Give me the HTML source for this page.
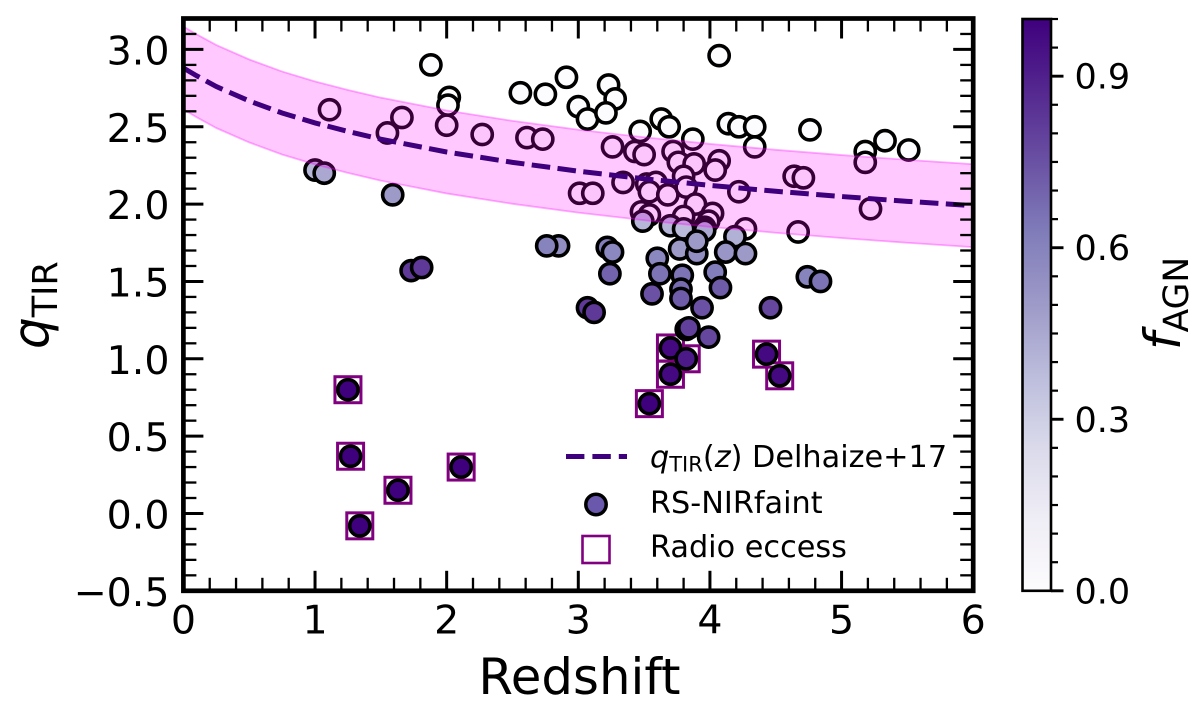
<!DOCTYPE html>
<html lang="en">
<head>
<meta charset="utf-8">
<title>qTIR versus redshift</title>
<style>
html,body{margin:0;padding:0;background:#fff;}
svg{display:block;}
text{font-family:"DejaVu Sans","Liberation Sans",sans-serif;fill:#000;}
</style>
</head>
<body>
<svg id="chart" xmlns="http://www.w3.org/2000/svg" width="1200" height="706" viewBox="0 0 1200 706">
  <defs>
    <clipPath id="plot-clip"><rect x="183.4" y="18.5" width="789.8" height="572.3"/></clipPath>
    <linearGradient id="purples-gradient" x1="0" y1="1" x2="0" y2="0"></linearGradient>
  </defs>
  <rect x="183.4" y="18.5" width="789.8" height="572.3" fill="#fff"/>
  <g id="squares" clip-path="url(#plot-clip)"></g>
  <g id="points" clip-path="url(#plot-clip)"></g>
  <g id="band" clip-path="url(#plot-clip)"></g>
  <g id="curve" clip-path="url(#plot-clip)"></g>
  <g id="ticks"></g>
  <rect x="183.4" y="18.5" width="789.8" height="572.3" fill="none" stroke="#000" stroke-width="4.7"/>
  <g id="tick-labels"></g>

  <text x="579.5" y="694" font-size="49.8" text-anchor="middle">Redshift</text>
  <text transform="translate(48,349) rotate(-90)" font-size="50"><tspan font-style="italic">q</tspan><tspan font-size="35" dy="9">TIR</tspan></text>

  <g>
    <line x1="566" y1="456.5" x2="627" y2="456.5" stroke="#3f007d" stroke-width="5" stroke-dasharray="18.4 8"/>
    <text x="650" y="467" font-size="30.3"><tspan font-style="italic">q</tspan><tspan font-size="21" dy="4.5">TIR</tspan><tspan dy="-4.5">(</tspan><tspan font-style="italic">z</tspan><tspan>) Delhaize+17</tspan></text>
    <circle cx="596" cy="504.5" r="10.2" fill="#6a58ad" stroke="#000" stroke-width="3.5"/>
    <text x="650" y="513" font-size="30.3">RS-NIRfaint</text>
    <rect x="582.5" y="536" width="27" height="27" fill="none" stroke="#800080" stroke-width="2.6"/>
    <text x="650" y="557" font-size="30.3">Radio eccess</text>
  </g>

  <g>
    <rect id="cbar" x="1022.5" y="19" width="28.5" height="571.8" fill="url(#purples-gradient)" stroke="#000" stroke-width="2.6"/>
    <g id="cbar-ticks"></g>
    <text transform="translate(1180,350) rotate(-90)" font-size="50"><tspan font-style="italic">f</tspan><tspan font-size="34.5" dy="8">AGN</tspan></text>
  </g>
</svg>
<script>
// Scatter data
const redshift = [4.07,2.56,2.75,2.91,3.23,3.28,3.00,3.07,3.21,3.47,3.63,3.69,3.87,4.14,4.22,4.34,4.76,4.34,1.88,2.02,2.01,2.00,2.27,1.11,1.55,1.66,2.61,2.73,3.26,3.43,3.50,3.72,3.76,3.88,4.07,4.04,4.64,4.71,3.34,3.01,3.11,3.52,3.59,3.54,3.68,3.80,3.82,4.22,3.48,3.54,3.89,3.80,4.02,3.99,3.96,4.27,4.67,5.18,5.18,5.33,5.51,5.22,3.49,3.70,3.80,3.96,4.19,3.77,3.90,3.90,4.12,4.27,2.85,2.76,3.22,3.26,3.24,3.60,3.62,3.79,3.56,3.78,3.78,3.94,4.04,4.08,4.74,4.84,4.46,3.07,3.12,3.82,3.84,3.99,1.00,1.07,1.59,1.73,1.81];
const qTir = [2.96,2.72,2.71,2.82,2.77,2.68,2.63,2.55,2.59,2.47,2.55,2.50,2.42,2.52,2.50,2.50,2.48,2.37,2.90,2.69,2.64,2.51,2.45,2.61,2.46,2.56,2.43,2.42,2.37,2.34,2.32,2.34,2.27,2.26,2.28,2.22,2.18,2.17,2.14,2.07,2.07,2.13,2.14,2.08,2.06,2.18,2.11,2.08,1.95,1.93,2.00,1.92,1.94,1.89,1.85,1.84,1.82,2.34,2.27,2.41,2.35,1.97,1.89,1.86,1.84,1.83,1.79,1.71,1.68,1.76,1.69,1.68,1.73,1.73,1.72,1.69,1.55,1.65,1.55,1.54,1.42,1.45,1.39,1.33,1.56,1.46,1.53,1.50,1.33,1.33,1.30,1.19,1.20,1.14,2.22,2.20,2.06,1.57,1.59];
const fAgn = [0,0,0,0,0,0,0,0,0,0,0,0,0,0,0,0,0,0,0,0,0,0,0,0,0,0,0,0,0,0,0,0,0,0,0,0,0,0,0,0,0,0,0,0,0,0,0,0,0,0,0,0,0,0,0,0,0,0,0,0,0,0,0.4,0.4,0.38,0.45,0.42,0.5,0.55,0.5,0.52,0.5,0.55,0.6,0.62,0.58,0.7,0.58,0.65,0.65,0.75,0.68,0.72,0.75,0.62,0.72,0.6,0.65,0.78,0.82,0.82,0.88,0.8,0.78,0.4,0.45,0.5,0.82,0.82];

// Radio-excess sources (drawn with a square)
const radioRedshift = [3.70,3.82,3.70,3.54,4.43,4.53,1.25,1.27,1.63,1.34,2.11];
const radioQTir = [1.07,1.00,0.90,0.71,1.03,0.89,0.80,0.37,0.15,-0.08,0.30];
const radioFAgn = [0.97,0.92,0.97,1,0.97,0.97,1,1,1,1,1];

// Redshift evolution curve
const curveZ = [0,0.1,0.25,0.5,0.75,1,1.25,1.5,2,2.5,3,3.5,4,4.5,5,5.5,6];
const curveQ = [2.88,2.83,2.76,2.667,2.589,2.525,2.47,2.42,2.337,2.27,2.213,2.164,2.121,2.083,2.049,2.018,1.99];
const curveBandHalfWidth = 0.268;

// Axis ticks
const xMajorTicks = [0,1,2,3,4,5,6];
const xMinorTicks = [0.2,0.4,0.6,0.8,1.2,1.4,1.6,1.8,2.2,2.4,2.6,2.8,3.2,3.4,3.6,3.8,4.2,4.4,4.6,4.8,5.2,5.4,5.6,5.8];
const yMajorTicks = [-0.5,0,0.5,1,1.5,2,2.5,3];
const yMinorTicks = [-0.4,-0.3,-0.2,-0.1,0.1,0.2,0.3,0.4,0.6,0.7,0.8,0.9,1.1,1.2,1.3,1.4,1.6,1.7,1.8,1.9,2.1,2.2,2.3,2.4,2.6,2.7,2.8,2.9,3.1];
const xTickLabels = ['0','1','2','3','4','5','6'];
const yTickLabels = ['\u22120.5','0.0','0.5','1.0','1.5','2.0','2.5','3.0'];
const cbarMajorTicks = [0,0.3,0.6,0.9];
const cbarMinorTicks = [0.05,0.1,0.15,0.2,0.25,0.35,0.4,0.45,0.5,0.55,0.65,0.7,0.75,0.8,0.85,0.95,1];
const cbarTickLabels = ['0.0','0.3','0.6','0.9'];

// Purples colormap
const purples = ['#fcfbfd','#efedf5','#dadaeb','#bcbddc','#9e9ac8','#807dba','#6a51a3','#54278f','#3f007d'];

const NS = 'http://www.w3.org/2000/svg';
const X0 = 183.4, X1 = 973.2, Y0 = 590.8, Y1 = 18.5;
const xScale = function (z) { return X0 + (z - 0) / 6 * (X1 - X0); };
const yScale = function (q) { return Y0 - (q + 0.5) / 3.7 * (Y0 - Y1); };
const cbarScale = function (f) { return 590.8 - f * 571.8; };

function hexToRgb(h) {
  return [parseInt(h.slice(1, 3), 16), parseInt(h.slice(3, 5), 16), parseInt(h.slice(5, 7), 16)];
}
function cmap(f) {
  const t = Math.max(0, Math.min(1, f)) * (purples.length - 1);
  const i = Math.min(Math.floor(t), purples.length - 2);
  const a = hexToRgb(purples[i]);
  const b = hexToRgb(purples[i + 1]);
  const u = t - i;
  return 'rgb(' + [0, 1, 2].map(function (k) { return Math.round(a[k] + (b[k] - a[k]) * u); }).join(',') + ')';
}
function make(tag, parent, attrs) {
  const n = document.createElementNS(NS, tag);
  Object.keys(attrs).forEach(function (k) { n.setAttribute(k, attrs[k]); });
  parent.appendChild(n);
  return n;
}

// gradient
const grad = document.getElementById('purples-gradient');
purples.forEach(function (c, i) {
  make('stop', grad, { offset: i / (purples.length - 1), 'stop-color': c });
});

// squares
const squaresG = document.getElementById('squares');
radioRedshift.forEach(function (z, i) {
  const s = make('rect', squaresG, { x: xScale(z) - 13, y: yScale(radioQTir[i]) - 13, width: 26, height: 26, fill: 'none', stroke: '#800080', 'stroke-width': 3 });
  
  
});

// points
const pointsG = document.getElementById('points');
redshift.forEach(function (z, i) {
  const c = make('circle', pointsG, { cx: xScale(z), cy: yScale(qTir[i]), r: 10.1, fill: cmap(fAgn[i]), stroke: '#000', 'stroke-width': 3.6 });
  
  
});
radioRedshift.forEach(function (z, i) {
  const c = make('circle', pointsG, { cx: xScale(z), cy: yScale(radioQTir[i]), r: 10.1, fill: cmap(radioFAgn[i]), stroke: '#000', 'stroke-width': 3.6 });
  
  
});

// band and curve
const upperPts = curveZ.map(function (z, i) { return xScale(z).toFixed(2) + ',' + yScale(curveQ[i] + curveBandHalfWidth).toFixed(2); });
const lowerPts = curveZ.map(function (z, i) { return xScale(z).toFixed(2) + ',' + yScale(curveQ[i] - curveBandHalfWidth).toFixed(2); }).reverse();
const bandPoly = make('polygon', document.getElementById('band'), { points: upperPts.concat(lowerPts).join(' '), fill: '#ff00ff', 'fill-opacity': 0.21, stroke: '#ff00ff', 'stroke-opacity': 0.32, 'stroke-width': 1.8 });


const curveLine = make('polyline', document.getElementById('curve'), { points: curveZ.map(function (z, i) { return xScale(z).toFixed(2) + ',' + yScale(curveQ[i]).toFixed(2); }).join(' '), fill: 'none', stroke: '#3f007d', 'stroke-width': 5, 'stroke-dasharray': '18.6 7.4' });



// axis ticks
const ticksG = document.getElementById('ticks');
function addTick(x1, y1, x2, y2, w) {
  const t = make('line', ticksG, { x1: x1, y1: y1, x2: x2, y2: y2, stroke: '#000', 'stroke-width': w });
  
  
}
xMajorTicks.forEach(function (v) { const x = xScale(v); addTick(x, Y0, x, Y0 - 20, 3); addTick(x, Y1, x, Y1 + 20, 3); });
xMinorTicks.forEach(function (v) { const x = xScale(v); addTick(x, Y0, x, Y0 - 13, 2.3); addTick(x, Y1, x, Y1 + 13, 2.3); });
yMajorTicks.forEach(function (v) { const y = yScale(v); addTick(X0, y, X0 + 20, y, 3); addTick(X1, y, X1 - 20, y, 3); });
yMinorTicks.forEach(function (v) { const y = yScale(v); addTick(X0, y, X0 + 13, y, 2.3); addTick(X1, y, X1 - 13, y, 2.3); });

// tick labels
const labelsG = document.getElementById('tick-labels');
xMajorTicks.forEach(function (v, i) {
  const t = make('text', labelsG, { x: xScale(v), y: 633.5, 'font-size': 39.5, 'text-anchor': 'middle' });
  t.textContent = xTickLabels[i];
  
  
});
yMajorTicks.forEach(function (v, i) {
  const t = make('text', labelsG, { x: 169.5, y: yScale(v) + 15, 'font-size': 39.5, 'text-anchor': 'end' });
  t.textContent = yTickLabels[i];
  
  
});

// colorbar ticks
const cbarG = document.getElementById('cbar-ticks');
cbarMajorTicks.forEach(function (v, i) {
  const y = cbarScale(v);
  const l = make('line', cbarG, { x1: 1051, y1: y, x2: 1063.5, y2: y, stroke: '#000', 'stroke-width': 2.9 });
  
  
  const t = make('text', cbarG, { x: 1074.5, y: y + 12.5, 'font-size': 35 });
  t.textContent = cbarTickLabels[i];
  
  
});
cbarMinorTicks.forEach(function (v) {
  const y = cbarScale(v);
  const l = make('line', cbarG, { x1: 1051, y1: y, x2: 1058, y2: y, stroke: '#000', 'stroke-width': 2.2 });
  
  
});
</script>
</body>
</html>
